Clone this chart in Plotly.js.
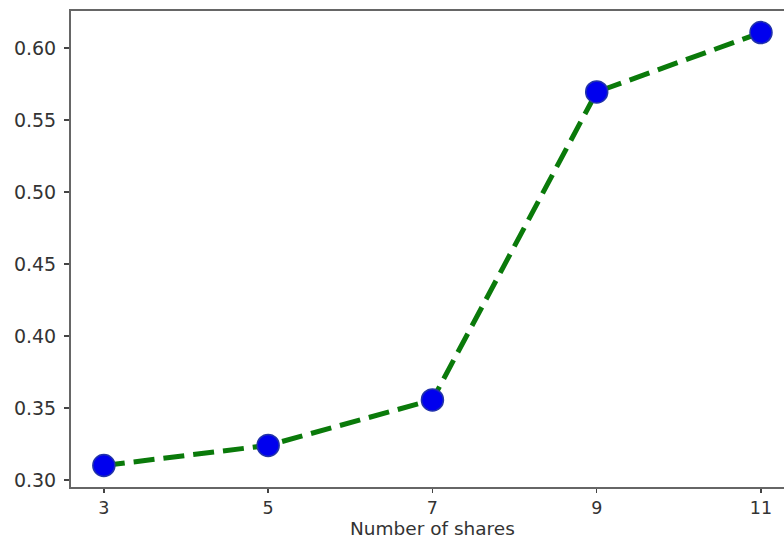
<!DOCTYPE html>
<html>
<head>
<meta charset="utf-8">
<script src="https://cdn.plot.ly/plotly-3.0.1.min.js"></script>
<style>html,body{margin:0;padding:0;background:#fff;}#chart{width:784px;height:540px;}</style>
</head>
<body>
<div id="chart"></div>
<script>
const shares = [3, 5, 7, 9, 11];
const values = [0.310, 0.324, 0.3556, 0.5695, 0.6107];
const xTicks = [3, 5, 7, 9, 11];
const yTicks = [0.30, 0.35, 0.40, 0.45, 0.50, 0.55, 0.60];
const xTitle = 'Number of shares';

const trace = {
  x: shares, y: values, type: 'scatter', mode: 'lines+markers',
  line: {color: '#0a7a0a', width: 5, dash: '21px,9px'},
  marker: {color: '#0000ee', size: 22, line: {color: '#2233aa', width: 1.5}},
  hoverinfo: 'none'
};
const yTickFont = {family: 'DejaVu Sans, sans-serif', size: 19, color: '#333'};
const xTickFont = {family: 'DejaVu Sans, sans-serif', size: 17.5, color: '#333'};
const titleFont = {family: 'DejaVu Sans, sans-serif', size: 18.5, color: '#333'};
const layout = {
  width: 784, height: 540,
  margin: {l: 71, r: 0, t: 11, b: 53},
  paper_bgcolor: '#fff', plot_bgcolor: '#fff',
  showlegend: false,
  xaxis: {
    range: [2.6, 11.28], tickvals: xTicks, ticktext: xTicks.map(String),
    showgrid: false, zeroline: false, showline: true, mirror: true,
    linecolor: '#666', linewidth: 2, ticks: 'outside', ticklen: 4, tickwidth: 1.5, tickcolor: '#444',
    tickfont: xTickFont
  },
  yaxis: {
    range: [0.2951, 0.6257], tickvals: yTicks, ticktext: yTicks.map(v => v.toFixed(2)),
    showgrid: false, zeroline: false, showline: true, mirror: true,
    linecolor: '#666', linewidth: 2, ticks: 'outside', ticklen: 5, tickwidth: 1.5, tickcolor: '#444',
    ticklabelstandoff: 4,
    tickfont: yTickFont
  },
  annotations: [{
    text: xTitle, xref: 'x', x: 7.0, yref: 'paper', y: 0, yanchor: 'bottom', yshift: -53,
    borderpad: 0, showarrow: false, font: titleFont
  }]
};
Plotly.newPlot('chart', [trace], layout, {displayModeBar: false, staticPlot: true});
</script>
</body>
</html>
